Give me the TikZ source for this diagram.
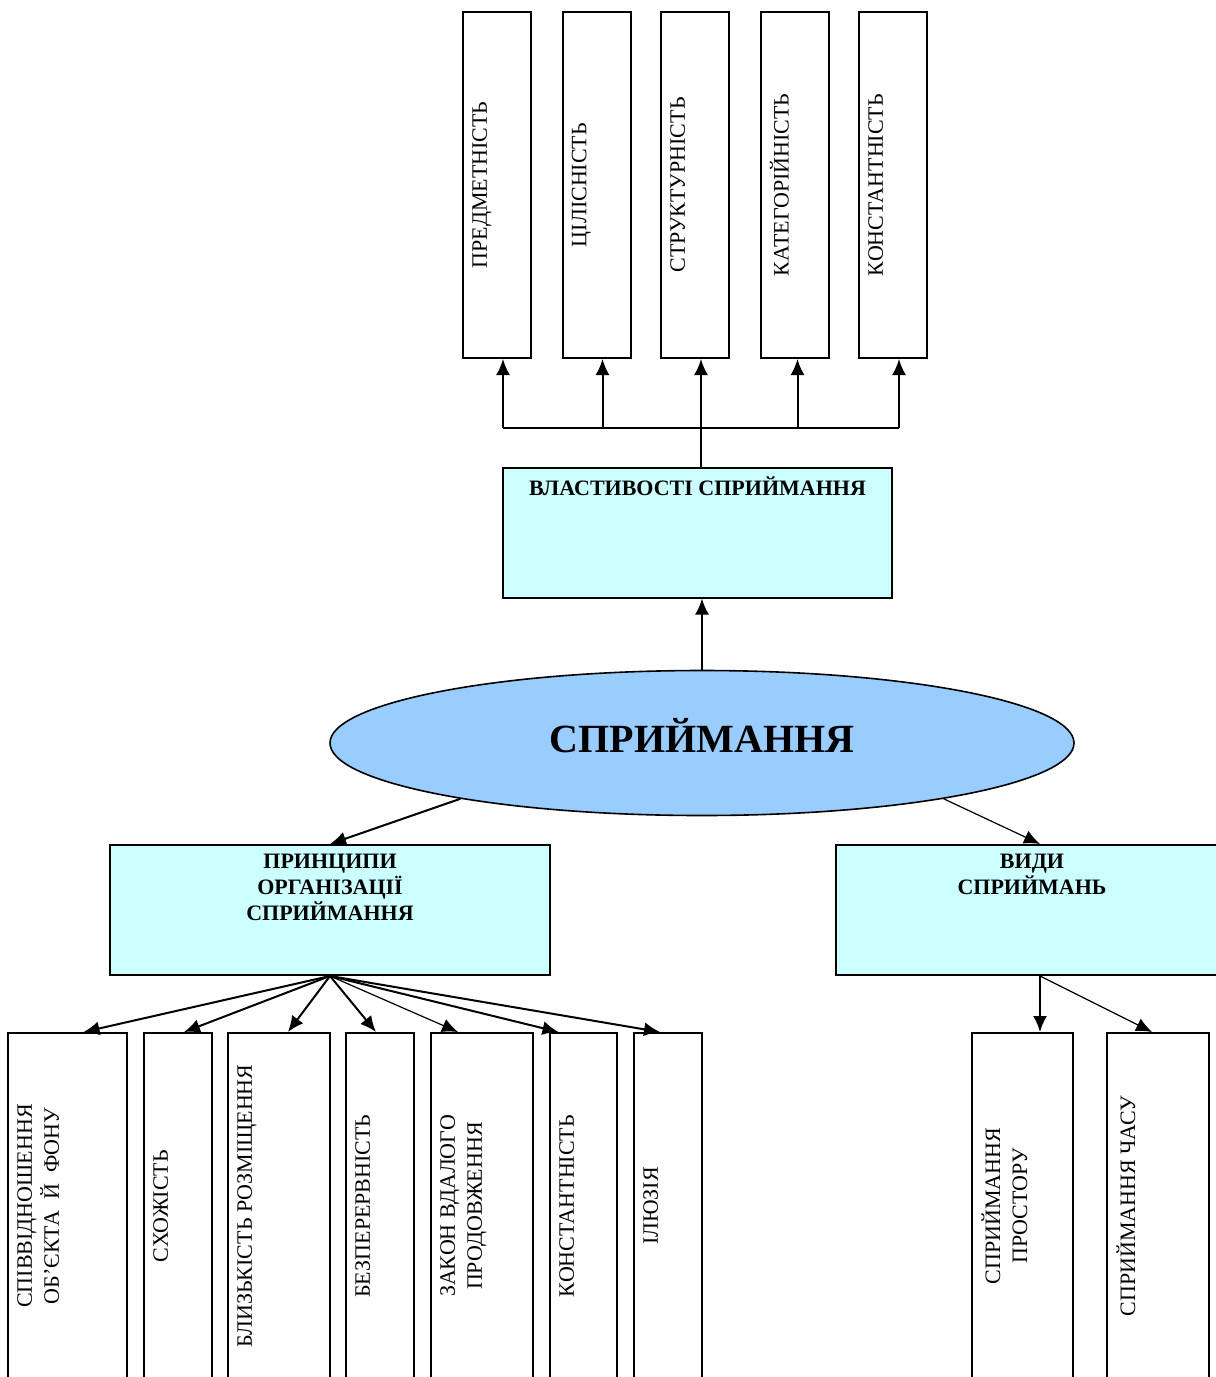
\documentclass[tikz,border=0pt]{standalone}
\usepackage{fontspec}
\setmainfont{Liberation Serif}
\usetikzlibrary{arrows.meta,shapes.geometric}
\definecolor{boxcyan}{RGB}{204,255,255}
\definecolor{ellblue}{RGB}{153,204,255}

\begin{document}
\begin{tikzpicture}[x=0.5pt,y=-0.5pt,
    >={Latex[length=8pt,width=7pt]},
    every node/.style={font=\fontsize{11}{13.5}\selectfont},
    tallbox/.style={draw,line width=1pt,inner sep=0pt,minimum height=173pt},
    headbox/.style={draw,line width=1pt,fill=boxcyan,inner sep=0pt,minimum height=65pt},
    vtext/.style={rotate=90,anchor=north,align=center,inner sep=0pt},
    htext/.style={anchor=north,align=center,inner sep=0pt,font=\fontsize{11}{13}\selectfont\bfseries},
    arr/.style={-{Latex[length=8pt,width=7pt]},line width=1pt},
    thinarr/.style={-{Latex[length=8pt,width=7pt]},line width=0.6pt}]
    \useasboundingbox (0,0) rectangle (1216,1377);

    % centre
    \node[ellipse,draw,line width=0.8pt,fill=ellblue,minimum width=372pt,minimum height=72.5pt,
          inner sep=0pt] (ell) at (702,743) {};
    \node[font=\fontsize{20}{24}\selectfont\bfseries] (tell) at ([yshift=3.5pt]ell.center) {СПРИЙМАННЯ};

    % properties
    \node[headbox,minimum width=194.5pt] (vl) at (697.5,532.5) {};
    \node[htext] (tvl) at ([yshift=-5pt]vl.north) {ВЛАСТИВОСТІ СПРИЙМАННЯ};
    \node[tallbox,minimum width=34pt] (p1) at (497,185) {};
    \node[tallbox,minimum width=34pt] (p2) at (596.5,185) {};
    \node[tallbox,minimum width=34pt] (p3) at (695,185) {};
    \node[tallbox,minimum width=34pt] (p4) at (794.5,185) {};
    \node[tallbox,minimum width=34pt] (p5) at (893,185) {};
    \node[vtext] (tp1) at ([xshift=5pt]p1.west) {ПРЕДМЕТНІСТЬ};
    \node[vtext] (tp2) at ([xshift=5pt]p2.west) {ЦІЛІСНІСТЬ};
    \node[vtext] (tp3) at ([xshift=5pt]p3.west) {СТРУКТУРНІСТЬ};
    \node[vtext] (tp4) at ([xshift=5pt]p4.west) {КАТЕГОРІЙНІСТЬ};
    \node[vtext] (tp5) at ([xshift=5pt]p5.west) {КОНСТАНТНІСТЬ};

    % principles
    \node[headbox,minimum width=220pt] (pr) at (330,910) {};
    \node[htext] (tpr) at ([yshift=-5pt]pr.north) {ПРИНЦИПИ\\ОРГАНІЗАЦІЇ\\СПРИЙМАННЯ};
    \node[tallbox,minimum width=59.5pt] (a) at (67.5,1206) {};
    \node[tallbox,minimum width=34pt] (b) at (178,1206) {};
    \node[tallbox,minimum width=51pt] (c) at (279,1206) {};
    \node[tallbox,minimum width=34pt] (d) at (380,1206) {};
    \node[tallbox,minimum width=51pt] (e) at (482,1206) {};
    \node[tallbox,minimum width=33.5pt] (f) at (583.5,1206) {};
    \node[tallbox,minimum width=34pt] (g) at (668,1206) {};
    \node[vtext] (ta) at ([xshift=5pt]a.west) {СПІВВІДНОШЕННЯ\\ОБ’ЄКТА~~Й~~ФОНУ};
    \node[vtext] (tb) at ([xshift=5pt]b.west) {СХОЖІСТЬ};
    \node[vtext] (tc) at ([xshift=5pt]c.west) {БЛИЗЬКІСТЬ РОЗМІЩЕННЯ};
    \node[vtext] (td) at ([xshift=5pt]d.west) {БЕЗПЕРЕРВНІСТЬ};
    \node[vtext] (te) at ([xshift=5pt]e.west) {ЗАКОН ВДАЛОГО\\ПРОДОВЖЕННЯ};
    \node[vtext] (tf) at ([xshift=5pt]f.west) {КОНСТАНТНІСТЬ};
    \node[vtext] (tg) at ([xshift=5pt]g.west) {ІЛЮЗІЯ};

    % kinds
    \node[headbox,minimum width=204pt] (vd) at (1040,910) {};
    \node[htext] (tvd) at ([xshift=-4pt,yshift=-5pt]vd.north) {ВИДИ\\СПРИЙМАНЬ};
    \node[tallbox,minimum width=50.5pt] (h) at (1022.5,1206) {};
    \node[tallbox,minimum width=51pt] (i) at (1158,1206) {};
    \node[vtext] (th) at ([xshift=5pt]h.west) {СПРИЙМАННЯ\\ПРОСТОРУ};
    \node[vtext] (ti) at ([xshift=5pt]i.west) {СПРИЙМАННЯ ЧАСУ};

    % connectors
    \draw[arr] (ell.north) -- (ell.north |- vl.south);
    \coordinate (hub) at (701,428);
    \coordinate (q1) at ([xshift=3pt]p1.south);
    \coordinate (q2) at ([xshift=3pt]p2.south);
    \coordinate (q3) at ([xshift=3pt]p3.south);
    \coordinate (q4) at ([xshift=1.5pt]p4.south);
    \coordinate (q5) at ([xshift=3pt]p5.south);
    \draw[line width=1pt] (hub |- vl.north) -- (hub);
    \draw[line width=1pt] (q1 |- hub) -- (q5 |- hub);
    \draw[arr] (q1 |- hub) -- (q1);
    \draw[arr] (q2 |- hub) -- (q2);
    \draw[arr] (q3 |- hub) -- (q3);
    \draw[arr] (q4 |- hub) -- (q4);
    \draw[arr] (q5 |- hub) -- (q5);

    \draw[arr] (ell.193.8) -- (pr.north);
    \draw[thinarr] (ell.-13.9) -- (vd.north);

    \draw[arr] (pr.south) -- ([xshift=8pt]a.north);
    \draw[arr] (pr.south) -- ([xshift=3pt]b.north);
    \draw[arr] (pr.south) -- ([xshift=4.5pt]c.north);
    \draw[arr] (pr.south) -- ([xshift=-2pt]d.north);
    \draw[thinarr] (pr.south) -- ([xshift=-12pt]e.north);
    \draw[arr] (pr.south) -- ([xshift=-12.5pt]f.north);
    \draw[arr] (pr.south) -- ([xshift=-4pt]g.north);

    \draw[arr] (vd.south) -- (vd.south |- h.north);
    \draw[thinarr] (vd.south) -- ([xshift=-3pt]i.north);
\end{tikzpicture}
\end{document}
